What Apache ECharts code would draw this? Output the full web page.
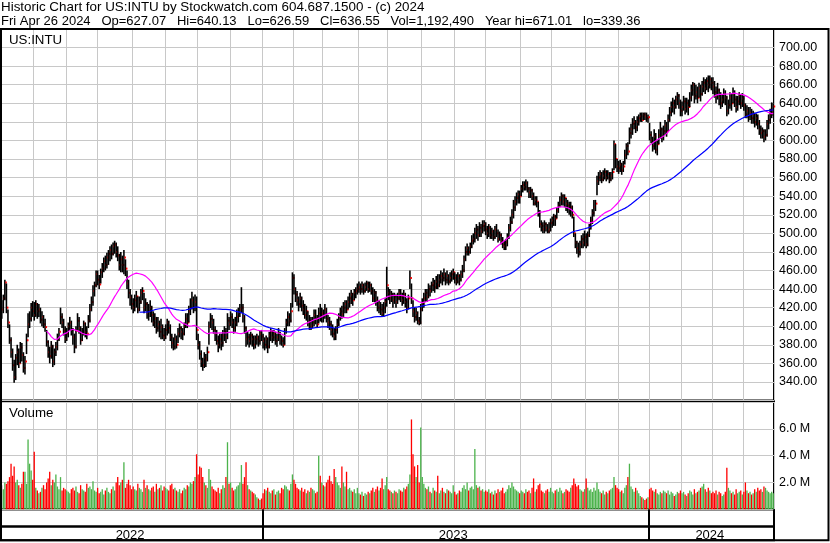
<!DOCTYPE html>
<html>
<head>
<meta charset="utf-8">
<title>US:INTU historic chart</title>
<script src="https://cdn.jsdelivr.net/npm/echarts@6/dist/echarts.min.js"></script>
<style>
  html, body { margin: 0; padding: 0; background: #fff; }
  #chart { width: 830px; height: 543px; }
</style>
</head>
<body>
<div id="chart"></div>
<script>
// trading days: 2 May 2022 .. 26 Apr 2024, NYSE holidays removed
const holidays = ['2022-05-30','2022-06-20','2022-07-04','2022-09-05','2022-11-24','2022-12-26',
  '2023-01-02','2023-01-16','2023-02-20','2023-04-07','2023-05-29','2023-06-19','2023-07-04',
  '2023-09-04','2023-11-23','2023-12-25','2024-01-01','2024-01-15','2024-02-19','2024-03-29'];

// daily close, one row per month
const closes = [
  418,430,447,420,404,385,372,358,345,366,372,360,377,369,355,362,385,402,408,420,416,
  412,424,416,418,407,410,402,399,383,372,368,378,362,372,378,386,394,410,404,395,386,
  392,400,404,396,388,378,395,406,398,385,392,403,394,392,406,418,426,438,444,456,
  450,445,458,462,470,466,474,478,482,478,486,488,480,476,466,472,466,474,462,446,436,431,424,
  420,428,432,418,426,436,438,420,424,414,416,420,412,404,408,398,402,394,399,390,388,
  396,404,398,388,382,378,386,380,392,398,394,392,400,408,404,416,420,428,420,426,396,
  380,370,362,358,366,364,372,400,408,404,396,392,384,380,386,382,390,394,388,406,402,
  410,404,398,404,410,414,418,420,410,398,386,388,384,390,386,380,386,388,384,392,389,
  384,380,386,378,390,394,388,392,384,388,392,386,384,380,394,404,410,406,416,452,
  440,434,428,424,430,422,418,412,416,404,406,400,404,412,408,402,414,410,414,
  412,418,408,404,402,396,392,389,396,402,410,416,413,420,424,418,426,430,434,428,436,438,440,
  442,440,444,438,442,446,440,444,438,430,436,428,420,424,418,414,420,426,444,
  436,430,434,428,432,426,430,436,432,428,434,426,420,430,452,430,416,410,414,406,404,418,
  424,430,436,432,440,438,444,446,442,448,444,450,454,452,456,450,454,448,452,456,458,
  452,448,454,450,456,460,472,480,484,480,486,492,494,500,504,498,506,502,508,510,
  504,500,506,498,502,496,504,500,494,498,492,488,486,490,496,506,512,520,528,534,538,542,540,
  548,552,550,554,548,544,546,540,532,536,534,522,510,508,504,510,506,502,504,511,
  514,518,516,524,530,536,540,534,538,532,530,526,528,520,500,490,484,480,488,494,490,496,
  488,498,506,514,522,528,532,556,560,564,558,562,566,560,564,558,562,566,596,580,572,
  570,574,568,572,584,594,588,608,612,618,620,614,620,624,626,622,628,626,624,625,
  606,600,594,604,590,596,606,612,604,610,616,610,622,630,636,640,636,644,648,640,632,
  636,642,634,640,636,646,654,660,648,652,646,656,650,658,662,656,664,660,666,662,
  658,652,648,654,646,640,644,650,646,632,638,646,640,650,644,636,642,648,640,645,
  638,628,632,626,630,624,628,620,624,618,612,608,610,604,606,618,622,628,630,636.55
];

const highs = [
  428,434,450,446,418,402,388,376,364,370,380,376,383,382,372,368,392,414,416,425,427,
  426,428,425,424,420,416,412,408,396,385,378,384,380,376,383,392,398,420,414,408,400,
  398,404,410,406,398,392,400,414,410,400,398,406,404,400,412,424,432,444,448,460,
  460,455,462,468,474,476,479,482,486,488,490,492,490,486,478,480,476,482,472,460,450,440,434,
  430,434,438,432,432,440,442,436,430,426,424,428,422,416,414,410,410,406,408,402,398,
  402,408,406,402,392,388,392,390,398,403,400,398,404,414,414,422,430,437,432,434,432,
  392,384,374,366,372,370,378,405,414,412,408,400,396,390,392,392,396,400,398,414,410,
  416,414,408,410,418,420,424,442,424,412,400,394,392,394,392,390,390,392,390,396,396,
  392,388,390,388,394,398,396,396,394,392,398,394,390,388,398,408,416,414,425,458,
  456,442,438,432,436,432,428,424,422,416,412,410,410,418,418,412,420,424,420,
  418,424,420,412,410,406,402,398,400,408,414,420,422,426,428,428,432,436,439,436,440,442,446,
  448,446,448,446,447,449,448,448,446,442,440,438,432,428,426,424,426,430,464,
  442,440,438,436,436,434,436,440,440,436,439,436,430,434,460,446,428,420,420,416,410,424,
  430,436,440,440,446,444,448,452,450,454,456,456,460,458,462,458,460,456,458,460,462,
  458,456,458,456,460,466,476,486,489,486,490,498,500,506,510,508,512,510,514,514,
  512,508,510,508,506,504,508,510,504,502,500,496,492,494,500,510,518,526,536,540,544,546,546,
  552,556,556,558,556,550,550,548,544,540,540,534,525,514,512,514,512,510,512,516,
  518,521,520,528,534,540,544,542,542,538,536,534,534,530,518,500,492,490,492,498,500,503,
  500,502,510,518,526,536,536,562,566,568,566,568,570,568,568,566,566,570,600,596,580,
  578,579,576,578,590,597,598,614,618,624,626,622,626,628,630,630,630,630,630,628,
  619,610,604,612,608,600,612,620,614,616,622,620,628,636,642,646,644,648,652,650,644,
  642,648,646,646,644,652,660,663,662,660,658,662,660,664,668,666,668,670,670,668,
  668,664,658,662,656,652,650,656,654,648,644,652,650,657,654,648,648,652,650,651,
  648,640,638,636,636,634,632,630,629,628,622,616,614,612,612,622,628,634,641,640.13
];

const lows = [
  408,414,428,414,398,381,366,352,339,342,358,355,360,362,350,348,370,388,398,405,410,
  406,410,408,410,403,400,398,394,378,366,360,365,356,358,368,374,384,402,398,390,382,
  384,388,395,390,380,371,376,396,392,380,384,390,388,386,398,404,416,422,432,442,
  444,440,446,452,458,460,462,466,470,472,476,478,474,470,460,458,458,456,454,440,430,422,418,
  414,416,420,414,416,424,428,414,416,408,406,410,404,400,398,392,394,388,386,386,384,
  386,390,392,384,376,374,375,376,382,388,386,385,390,398,398,404,412,418,414,416,385,
  375,364,356,352,355,356,362,380,398,396,392,384,380,372,376,374,378,384,382,386,396,
  400,398,392,394,400,404,410,414,404,392,378,380,377,380,378,375,376,380,378,380,384,
  376,374,376,371,376,384,382,384,380,378,384,380,379,377,380,392,400,400,404,420,
  434,426,422,416,420,416,412,408,406,400,396,396,398,400,402,398,403,405,404,
  404,408,404,398,396,390,388,385,385,392,400,406,408,410,414,414,418,420,424,422,428,430,434,
  436,434,436,434,436,438,436,437,434,426,426,422,416,414,412,410,410,414,421,
  428,424,426,420,424,420,424,428,426,422,424,420,414,418,440,424,410,404,406,402,401,402,
  416,420,426,426,430,432,436,438,436,440,440,442,446,444,448,444,446,444,446,448,450,
  446,444,446,444,448,452,458,470,476,476,478,484,488,490,494,492,496,496,500,502,
  498,494,496,494,494,492,494,496,490,492,488,484,482,482,486,494,502,510,516,524,530,532,532,
  540,544,546,546,544,538,538,536,530,530,528,518,506,502,500,500,502,500,500,502,
  506,508,508,516,522,528,530,530,528,524,522,520,518,516,496,484,478,474,476,484,484,486,
  484,486,496,504,510,518,524,541,552,556,554,556,558,556,558,554,556,558,568,570,566,
  564,566,563,566,574,580,584,596,602,606,612,608,610,616,620,620,622,622,620,619,
  600,597,588,590,586,584,596,602,598,600,606,604,610,620,626,630,628,634,638,634,626,
  626,632,628,630,627,636,642,648,640,644,640,646,642,648,652,650,654,652,656,654,
  650,646,640,644,638,634,636,640,638,626,628,634,632,640,636,630,632,638,634,636,
  632,624,624,620,622,618,618,614,616,612,606,602,602,598,600,604,612,618,624,626.59
];

// daily volume, millions of shares
const volumes = [
  1.8,1.5,2.0,1.9,2.1,2.4,3.4,2.5,3.2,2.0,2.2,1.8,1.6,1.9,2.8,2.8,1.9,5.2,3.4,2.9,2.2,
  4.3,1.6,1.4,1.2,1.3,1.6,1.8,1.5,2.0,2.3,2.8,1.8,2.2,2.0,2.6,1.7,1.5,2.4,1.4,1.6,1.5,
  1.4,1.3,1.2,1.5,1.6,1.4,1.7,1.3,1.2,1.8,1.5,1.4,1.3,1.9,1.6,1.7,1.5,2.1,1.4,1.3,
  1.6,1.2,1.3,1.5,1.1,1.4,1.6,1.3,1.2,1.5,1.7,1.4,2.0,2.4,1.8,2.0,2.2,3.5,1.6,1.9,2.2,1.8,1.5,
  1.7,1.5,1.4,1.9,1.6,1.5,1.3,2.2,1.6,1.8,1.5,1.4,1.6,1.7,1.3,1.9,1.5,1.6,1.8,1.4,1.7,
  1.6,1.5,1.4,1.8,1.9,1.5,1.6,1.4,1.3,1.5,1.2,1.4,1.6,1.5,1.8,1.7,2.0,1.9,2.1,2.4,4.1,
  2.6,3.2,3.1,2.4,2.0,1.8,1.6,3.0,2.2,1.7,1.5,1.4,1.3,1.6,1.2,1.5,1.8,1.6,2.4,5.0,1.9,
  2.0,1.6,1.4,1.5,1.7,1.8,2.0,3.3,1.9,2.4,3.5,1.8,1.5,1.4,1.3,1.2,1.1,0.9,0.8,0.7,0.8,
  1.2,1.5,1.4,1.6,1.3,1.2,1.4,1.5,1.1,1.3,1.4,1.2,1.6,1.5,1.8,1.7,1.5,1.4,1.9,2.6,
  2.2,1.9,1.6,1.5,1.4,1.6,1.3,1.5,1.2,1.4,1.3,1.6,1.5,1.4,1.2,1.3,4.0,2.5,2.0,
  1.8,1.7,2.0,2.2,2.5,2.1,1.9,3.0,2.4,2.0,1.8,1.6,3.2,2.0,1.7,2.8,1.5,1.6,1.4,1.3,1.5,1.2,1.6,
  1.2,1.1,1.3,1.0,1.2,1.1,1.3,1.2,1.4,1.6,1.3,1.5,1.7,1.4,1.6,2.3,1.5,1.8,2.4,
  1.5,1.4,1.3,1.2,1.4,1.3,1.2,1.5,1.4,1.3,1.6,1.5,1.7,1.9,2.6,6.7,4.1,3.2,2.4,3.3,2.0,6.1,
  2.4,1.9,1.6,1.5,1.7,1.3,1.2,1.6,1.4,1.3,2.5,1.2,1.4,1.6,1.3,1.2,1.5,1.4,1.3,1.2,1.8,
  1.3,1.1,1.2,1.4,1.3,1.6,1.8,1.5,2.0,1.4,1.6,1.7,1.5,4.5,1.8,1.6,1.7,1.4,1.5,1.3,
  1.4,1.3,1.5,1.2,1.3,1.1,1.4,1.2,1.5,1.3,1.4,1.6,1.2,1.3,1.5,1.8,1.6,2.0,1.7,1.5,1.4,1.3,1.2,
  1.4,1.3,1.2,1.5,1.3,1.4,1.2,1.6,2.3,1.3,1.5,1.8,1.9,1.4,1.3,1.2,1.4,1.5,1.3,1.6,
  1.3,1.2,1.4,1.5,1.3,1.6,1.4,1.2,1.3,1.5,1.4,1.3,1.6,1.8,2.3,1.9,1.7,1.8,1.5,1.4,1.3,1.5,
  2.3,1.6,1.4,1.5,1.3,1.6,1.4,2.0,1.5,1.3,1.2,1.4,1.1,1.3,1.2,1.4,1.5,1.6,2.4,1.8,1.6,
  1.5,1.3,1.4,1.2,1.6,1.8,2.4,3.4,1.7,1.5,1.3,1.6,1.4,1.2,1.0,0.9,0.8,0.7,0.8,0.9,
  1.5,1.6,1.4,1.3,1.5,1.2,1.1,1.3,1.2,1.4,1.3,1.2,1.4,1.1,1.3,1.2,1.0,1.1,1.3,1.2,1.4,
  1.2,1.3,1.1,1.0,1.2,1.4,1.3,1.1,1.5,1.2,1.3,1.4,1.6,1.7,1.9,1.5,1.3,1.6,1.4,1.2,
  1.3,1.2,1.4,1.1,1.3,1.2,1.0,1.1,1.3,3.1,1.6,1.4,1.2,1.3,1.1,1.5,1.2,1.3,1.4,1.1,
  1.3,2.0,1.4,1.2,1.3,1.1,1.2,1.5,1.3,1.6,1.4,1.5,1.3,1.7,1.6,1.4,1.3,1.2,1.3,1.19
];

const priceTicks = { min: 320, max: 720, step: 20 };
const volTicks = { min: 0, max: 8, step: 2 };

const dates = [];
for (let t = Date.UTC(2022, 4, 2); t <= Date.UTC(2024, 3, 26); t += 864e5) {
  const d = new Date(t);
  const s = d.toISOString().slice(0, 10);
  const wd = d.getUTCDay();
  if (wd > 0 && wd < 6 && holidays.indexOf(s) < 0) dates.push(s);
}

function monthStart(i) { return i > 0 && dates[i].slice(0, 7) !== dates[i - 1].slice(0, 7); }
function yearStart(i) { return i > 0 && dates[i].slice(0, 4) !== dates[i - 1].slice(0, 4); }

// label each year in the middle of its run of days
const yearMid = {};
(function () {
  let first = 0;
  for (let i = 1; i <= dates.length; i++) {
    if (i === dates.length || yearStart(i)) {
      yearMid[Math.floor((first + i - 1) / 2) - 1] = true;
      first = i;
    }
  }
})();

function sma(n) {
  return closes.map((c, i) => {
    if (i < n - 1) return '-';
    let s = 0;
    for (let k = i - n + 1; k <= i; k++) s += closes[k];
    return +(s / n).toFixed(2);
  });
}

function volColor(i) {
  if (i === 0 || closes[i] === closes[i - 1]) return '#a6a6a6';
  return closes[i] > closes[i - 1] ? '#4cb34c' : '#ff0000';
}

function renderBar(params, api) {
  const i = api.value(0);
  const hi = api.coord([i, api.value(2)]);
  const lo = api.coord([i, api.value(1)]);
  const cl = api.coord([i, api.value(3)]);
  return {
    type: 'group',
    children: [
      { type: 'rect', shape: { x: hi[0] - 0.8, y: hi[1], width: 1.6, height: Math.max(lo[1] - hi[1], 1) },
        style: { fill: '#000' } },
      { type: 'rect', shape: { x: hi[0] + 0.5, y: cl[1] - 1, width: 1.5, height: 2 },
        style: { fill: '#ff0000' } }
    ]
  };
}

const font = 'Liberation Sans, Arial, sans-serif';
const gridLine = { show: true, lineStyle: { color: '#c8c8c8', width: 1 } };
const plain = { fontWeight: 'normal', color: '#000', fontFamily: font };

const chart = echarts.init(document.getElementById('chart'));
chart.setOption({
  animation: false,
  backgroundColor: '#fff',
  textStyle: { fontFamily: font },
  title: [
    {
      text: 'Historic Chart for US:INTU by Stockwatch.com 604.687.1500 - (c) 2024',
      subtext: 'Fri Apr 26 2024   Op=627.07   Hi=640.13   Lo=626.59   Cl=636.55   Vol=1,192,490   Year hi=671.01   lo=339.36',
      left: 1, top: 0, padding: 0, itemGap: 0,
      textStyle: Object.assign({ fontSize: 13.4, lineHeight: 14 }, plain),
      subtextStyle: Object.assign({ fontSize: 13, lineHeight: 14 }, plain)
    },
    { text: 'US:INTU', left: 9, top: 33, padding: 0,
      textStyle: Object.assign({ fontSize: 13.3, lineHeight: 14 }, plain) },
    { text: 'Volume', left: 9, top: 406, padding: 0,
      textStyle: Object.assign({ fontSize: 13.3, lineHeight: 14 }, plain) }
  ],
  grid: [
    { left: 1, top: 29, width: 773, height: 371.5, show: true, borderColor: '#000', borderWidth: 2 },
    { left: 1, top: 402, width: 773, height: 107.3, show: true, borderColor: '#000', borderWidth: 2 },
    { left: 1, top: 509.3, width: 773, height: 17.2, show: true, borderColor: '#000', borderWidth: 2 },
    { left: 1, top: 526.5, width: 773, height: 13.8, show: true, borderColor: '#000', borderWidth: 2 }
  ],
  xAxis: [
    { type: 'category', gridIndex: 0, data: dates, axisLine: { show: false }, axisTick: { show: false },
      axisLabel: { show: false }, splitLine: Object.assign({ interval: monthStart }, gridLine) },
    { type: 'category', gridIndex: 1, data: dates, axisLine: { show: false }, axisTick: { show: false },
      axisLabel: { show: false }, splitLine: Object.assign({ interval: monthStart }, gridLine) },
    { type: 'category', gridIndex: 2, data: dates, axisLine: { show: false }, axisTick: { show: false },
      axisLabel: { show: false },
      splitLine: { show: true, interval: yearStart, lineStyle: { color: '#000', width: 2 } } },
    { type: 'category', gridIndex: 3, data: dates, axisLine: { show: false }, axisTick: { show: false },
      axisLabel: { show: true, inside: true, margin: -1.5, interval: (i) => !!yearMid[i],
        formatter: (v) => v.slice(0, 4), color: '#000', fontSize: 13, lineHeight: 13, fontFamily: font },
      splitLine: { show: true, interval: yearStart, lineStyle: { color: '#000', width: 2 } } }
  ],
  yAxis: [
    { type: 'value', gridIndex: 0, position: 'right', min: priceTicks.min, max: priceTicks.max,
      interval: priceTicks.step, axisLine: { show: false }, axisTick: { show: false },
      axisLabel: { margin: 5, color: '#000', fontSize: 12.5, fontFamily: font,
        formatter: (v) => (v >= 340 && v <= 700) ? v.toFixed(2) : '' },
      splitLine: gridLine },
    { type: 'value', gridIndex: 1, position: 'right', min: volTicks.min, max: volTicks.max,
      interval: volTicks.step, axisLine: { show: false }, axisTick: { show: false },
      axisLabel: { margin: 5, color: '#000', fontSize: 12.5, fontFamily: font,
        formatter: (v) => (v > 0 && v < 8) ? v.toFixed(1) + ' M' : '' },
      splitLine: gridLine },
    { type: 'value', gridIndex: 2, show: false },
    { type: 'value', gridIndex: 3, show: false }
  ],
  graphic: [
    { type: 'rect', z: 100, silent: true,
      shape: { x: 1, y: 29, width: 827.5, height: 511.3 },
      style: { fill: 'none', stroke: '#000', lineWidth: 2 } }
  ],
  series: [
    { name: 'MA30', type: 'line', xAxisIndex: 0, yAxisIndex: 0, data: sma(30),
      symbol: 'none', lineStyle: { color: '#ff00ff', width: 1.2 }, z: 3 },
    { name: 'MA90', type: 'line', xAxisIndex: 0, yAxisIndex: 0, data: sma(90),
      symbol: 'none', lineStyle: { color: '#0000ff', width: 1.2 }, z: 3 },
    { name: 'INTU', type: 'custom', xAxisIndex: 0, yAxisIndex: 0, renderItem: renderBar,
      encode: { x: 0, y: [1, 2, 3] },
      data: dates.map((d, i) => [i, lows[i], highs[i], closes[i]]), z: 2 },
    { name: 'Volume', type: 'bar', xAxisIndex: 1, yAxisIndex: 1, barCategoryGap: '15%',
      data: volumes.map((v, i) => ({ value: v, itemStyle: { color: volColor(i) } })) }
  ]
});
</script>
</body>
</html>
